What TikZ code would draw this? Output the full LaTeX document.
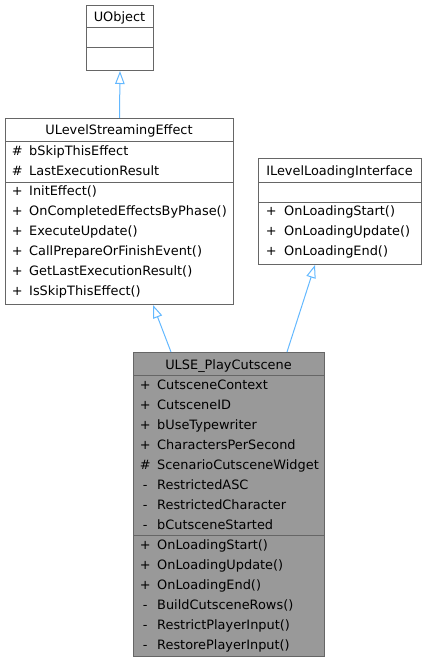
\documentclass[tikz,border=0pt]{standalone}
\usepackage{fontspec}
\setmainfont{DejaVu Sans}
\usetikzlibrary{
  arrows.meta,
  positioning
}
\definecolor{edgeblue}{HTML}{63B8FF}
\definecolor{boxline}{HTML}{666666}
\definecolor{boxfill}{HTML}{999999}

\begin{document}
\begin{tikzpicture}[x=1pt, y=-1pt, font=\fontsize{12.9}{15}\selectfont,
    cls/.style={draw=boxline, line width=1pt, fill=white, inner sep=0pt, anchor=north west},
    ttl/.style={inner sep=0pt, anchor=base},
    mbr/.style={inner sep=0pt, anchor=base west},
    inh/.style={draw=edgeblue, line width=1pt, -{Triangle[open, length=13pt, width=9.5pt]}}]
    \useasboundingbox (0,0) rectangle (426,663);

    % classes
    \node[cls, minimum width=67pt, minimum height=65pt] (uobj) at (86,5) {};
    \node[cls, minimum width=228pt, minimum height=186pt] (ulev) at (5,118) {};
    \node[cls, minimum width=163pt, minimum height=106pt] (ilev) at (258,158) {};
    \node[cls, fill=boxfill, minimum width=191pt, minimum height=304pt] (ulse) at (133,352) {};

    % separators
    \draw[boxline, line width=1pt] (86,28) -- (153,28) (86,48) -- (153,48);
    \draw[boxline, line width=1pt] (5,142) -- (233,142) (5,182) -- (233,182);
    \draw[boxline, line width=1pt] (258,182) -- (421,182) (258,202) -- (421,202);
    \draw[boxline, line width=1pt] (133,375) -- (324,375) (133,535) -- (324,535);

    % titles
    \node[ttl] (uobj-t) at (119.5,21.7) {UObject};
    \node[ttl] (ulev-t) at (119,135) {ULevelStreamingEffect};
    \node[ttl] (ilev-t) at (339.5,175.7) {ILevelLoadingInterface};
    \node[ttl] (ulse-t) at (228.5,369.3) {ULSE\_PlayCutscene};

    % members
    \foreach \s/\t [count=\i] in {\#/bSkipThisEffect, \#/LastExecutionResult,
        +/InitEffect(), +/OnCompletedEffectsByPhase(), +/ExecuteUpdate(),
        +/CallPrepareOrFinishEvent(), +/GetLastExecutionResult(), +/IsSkipThisEffect()}
      \node[mbr] (ulev-m\i) at (5,135.5+20*\i) {\makebox[24pt][c]{\s}\t};
    \foreach \s/\t [count=\i] in {+/OnLoadingStart(), +/OnLoadingUpdate(), +/OnLoadingEnd()}
      \node[mbr] (ilev-m\i) at (258,195.7+20*\i) {\makebox[26pt][c]{\s}\t};
    \foreach \s/\t [count=\i] in {+/CutsceneContext, +/CutsceneID, +/bUseTypewriter,
        +/CharactersPerSecond, \#/ScenarioCutsceneWidget, -/RestrictedASC,
        -/RestrictedCharacter, -/bCutsceneStarted, +/OnLoadingStart(),
        +/OnLoadingUpdate(), +/OnLoadingEnd(), -/BuildCutsceneRows(),
        -/RestrictPlayerInput(), -/RestorePlayerInput()}
      \node[mbr] (ulse-m\i) at (133,369+20*\i) {\makebox[24pt][c]{\s}\t};

    % inheritance
    \draw[inh] (ulev.north) -- (uobj.south);
    \draw[inh] ([xshift=38pt]ulse.north west) -- ([xshift=148pt]ulev.south west);
    \draw[inh] ([xshift=154pt]ulse.north west) -- ([xshift=57pt]ilev.south west);
  \end{tikzpicture}
\end{document}
